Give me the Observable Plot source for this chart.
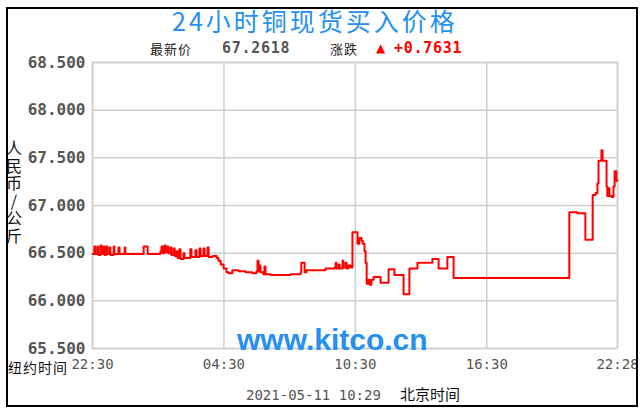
<!DOCTYPE html>
<html><head><meta charset="utf-8">
<script src="https://cdn.jsdelivr.net/npm/d3@7"></script>
<script src="https://cdn.jsdelivr.net/npm/@observablehq/plot@0.6"></script>
<style>
html,body{margin:0;padding:0;background:#fff;}
#wrap{position:relative;width:641px;height:413px;overflow:hidden;background:#fff;}
#wrap svg{position:absolute;left:0;top:0;}
.t{position:absolute;white-space:nowrap;line-height:1;}
.cjk{font-family:"Noto Sans CJK SC","Noto Sans",sans-serif;}
.mono{font-family:"DejaVu Sans Mono",monospace;}
#border{position:absolute;left:6px;top:7px;width:632px;height:400px;box-sizing:border-box;border:2px solid #000;}
#mask{position:absolute;left:638px;top:0;width:10px;height:413px;background:#fff;}
</style></head>
<body><div id="wrap"></div>
<script>
// minutes since 22:30 (New York time)
const times = [0,5,8,14,16,22,25,30,33,38,41,47,49,58,60,71,74,88,90,140,151,186,189,192,197,200,205,208,214,216,222,225,230,233,238,241,249,252,268,271,282,285,293,296,304,307,315,318,329,340,345,351,359,367,373,383,400,419,438,449,452,455,457,460,468,471,474,488,542,570,572,581,586,630,638,663,666,668,674,677,685,687,693,696,701,707,712,726,731,737,740,745,748,751,756,759,764,770,789,811,827,852,868,890,931,948,972,989,1306,1328,1350,1370,1378,1383,1386,1394,1397,1408,1410,1413,1416,1422,1427,1430,1435,1438];
const prices = [66.49,66.57,66.49,66.57,66.48,66.58,66.49,66.57,66.48,66.57,66.49,66.56,66.48,66.57,66.49,66.56,66.49,66.56,66.49,66.57,66.49,66.52,66.57,66.50,66.58,66.51,66.57,66.50,66.56,66.48,66.55,66.47,66.52,66.45,66.54,66.44,66.50,66.45,66.54,66.46,66.53,66.46,66.55,66.47,66.55,66.47,66.56,66.46,66.47,66.45,66.42,66.38,66.34,66.30,66.29,66.32,66.31,66.30,66.29,66.31,66.42,66.31,66.37,66.30,66.28,66.36,66.28,66.27,66.28,66.30,66.40,66.30,66.32,66.32,66.34,66.35,66.40,66.34,66.38,66.34,66.42,66.35,66.40,66.34,66.37,66.35,66.72,66.60,66.66,66.63,66.60,66.52,66.40,66.18,66.22,66.17,66.22,66.25,66.19,66.33,66.27,66.07,66.34,66.40,66.44,66.34,66.46,66.24,66.93,66.92,66.64,67.11,67.13,67.23,67.47,67.58,67.47,67.20,67.10,67.18,67.10,67.09,67.20,67.36,67.26,67.2618];
const xTickPos = [0,360,720,1080,1438];
const xTickLabels = ["22:30","04:30","10:30","16:30","22:28"];
const yTicks = [65.5,66,66.5,67,67.5,68,68.5];

const data = times.map((t,i)=>({t, v: prices[i]}));
const grid = "#cfcfcf";
const chart = Plot.plot({
  width: 641, height: 413,
  marginLeft: 92, marginRight: 24, marginTop: 62, marginBottom: 65,
  style: {background: "transparent"},
  x: {domain: [0,1438], label: null},
  y: {domain: [65.5,68.5], label: null},
  marks: [
    Plot.gridX(xTickPos, {stroke: grid, strokeOpacity: 1, strokeWidth: 1.5}),
    Plot.gridY(yTicks, {stroke: grid, strokeOpacity: 1, strokeWidth: 1.5}),
    Plot.frame({stroke: grid, strokeWidth: 1.5}),
    Plot.axisX(xTickPos, {tickSize: 0, tickPadding: 11, tickFormat: d => xTickLabels[xTickPos.indexOf(d)], fontFamily: "DejaVu Sans Mono", fontSize: 14, fill: "#555", label: null}),
    Plot.axisY(yTicks, {tickSize: 0, tickPadding: 7, tickFormat: d3.format(".3f"), fontFamily: "DejaVu Sans Mono", fontSize: 16, fontWeight: "bold", fill: "#555", label: null}),
    Plot.line(data, {x: "t", y: "v", curve: "step-after", stroke: "#ff0000", strokeWidth: 2})
  ]
});
const wrap = document.getElementById("wrap");
wrap.appendChild(chart);
const add = (html) => wrap.insertAdjacentHTML("beforeend", html);
add('<div class="t cjk" style="left:172px;top:8px;font-size:25px;color:#2590f0;letter-spacing:3px;">24小时铜现货买入价格</div>');
add('<div class="t cjk" style="left:150px;top:42px;font-size:13px;color:#222;letter-spacing:1px;">最新价</div>');
add('<div class="t mono" style="left:222px;top:41px;font-size:15px;font-weight:bold;color:#555;letter-spacing:0.7px;">67.2618</div>');
add('<div class="t cjk" style="left:330px;top:42px;font-size:13px;color:#222;letter-spacing:1px;">涨跌</div>');
add('<div class="t" style="left:376px;top:42px;font-size:12px;color:#f00;font-family:DejaVu Sans;">▲</div>');
add('<div class="t mono" style="left:394px;top:41px;font-size:15px;font-weight:bold;color:#f00;letter-spacing:0.7px;">+0.7631</div>');
add('<div class="t cjk" style="left:6px;top:140px;font-size:16px;color:#111;writing-mode:vertical-rl;text-orientation:upright;letter-spacing:1.5px;">人民币/公斤</div>');
add('<div class="t" style="left:237px;top:325px;font-size:30px;font-weight:bold;color:#2590f0;font-family:\'Liberation Sans\',Arial,sans-serif;">www.kitco.cn</div>');
add('<div class="t cjk" style="left:8px;top:360px;font-size:14px;color:#111;letter-spacing:1px;">纽约时间</div>');
add('<div class="t mono" style="left:246px;top:388px;font-size:14px;color:#555;">2021-05-11 10:29</div>');
add('<div class="t cjk" style="left:400px;top:386px;font-size:15px;color:#111;">北京时间</div>');
add('<div id="mask"></div><div id="border"></div>');
</script></body></html>
